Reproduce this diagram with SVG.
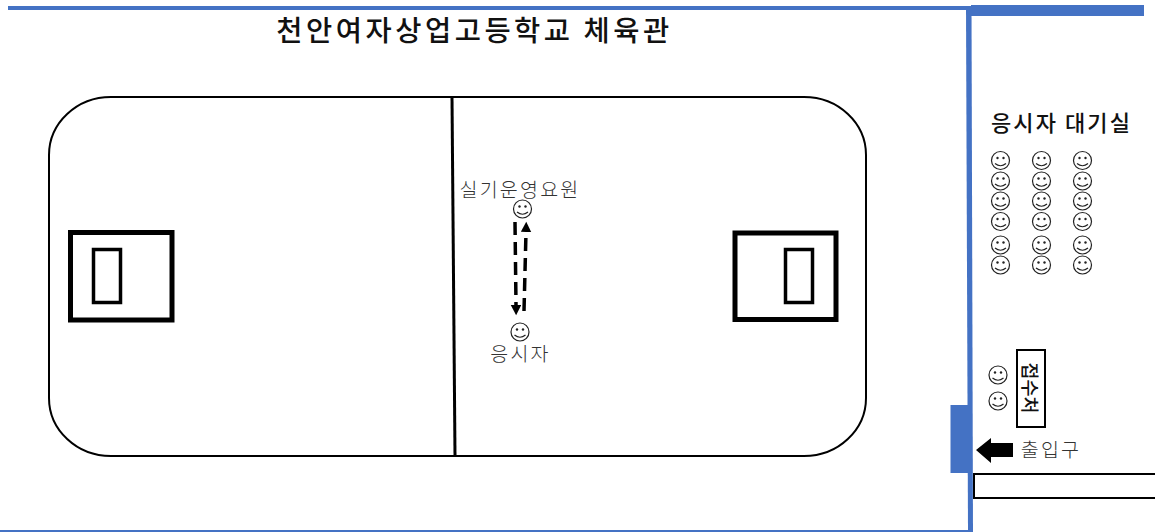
<svg xmlns="http://www.w3.org/2000/svg" width="1155" height="532" viewBox="0 0 1155 532">
<style>
text{font-family:"Noto Sans CJK KR","Liberation Sans",sans-serif;fill:#111;text-anchor:middle}
.wall{fill:#4472c4}
.box{fill:#fff;stroke:#000}
.dash{fill:none;stroke:#000;stroke-width:3.5;stroke-dasharray:13 7}
.face{fill:#fff;stroke:#222;stroke-width:1.2}
.lbl{font-size:19.500px;font-weight:300;letter-spacing:2.200px;fill:#333}
</style>
<defs>
<symbol id="smile" overflow="visible">
<circle class="face" cx="0" cy="0" r="9"/>
<circle cx="-3" cy="-2.5" r="1.2" fill="#222"/>
<circle cx="3" cy="-2.5" r="1.2" fill="#222"/>
<path d="M-5.500 3Q0 7.500 5.500 3" fill="none" stroke="#222" stroke-width="1.200"/>
</symbol>
<marker id="ah" markerWidth="3.200" markerHeight="3.200" refX="0" refY="1.500" orient="auto"><path d="M0 0L2.900 1.500L0 3Z" fill="#000"/></marker>
</defs>
<rect width="1155" height="532" fill="#fff"/>
<g id="walls">
<rect class="wall" x="8" y="6" width="962" height="4"/>
<path class="wall" d="M966 6H971.500L973 532H968Z"/>
<rect class="wall" x="0" y="530" width="970" height="2"/>
<rect class="wall" x="971" y="5" width="173" height="11"/>
</g>
<g id="title"><text x="474.500" y="41" font-size="28.500" font-weight="500" letter-spacing="3.500">천안여자상업고등학교 체육관</text></g>
<g id="court"><rect class="box" x="49" y="97" width="817" height="359" rx="62" ry="58" stroke-width="2"/></g>
<g id="center-line"><line x1="452" y1="97" x2="455" y2="456" stroke="#000" stroke-width="3"/></g>
<g id="left-goal">
<rect class="box" x="70.500" y="232.500" width="101.500" height="87.500" stroke-width="5"/>
<rect class="box" x="93.500" y="249.500" width="27" height="53" stroke-width="3.500"/>
</g>
<g id="right-goal">
<rect class="box" x="735" y="233" width="101" height="86.500" stroke-width="5"/>
<rect class="box" x="785.500" y="249.500" width="27" height="53" stroke-width="3.500"/>
</g>
<g id="connectors">
<path class="dash" d="M515 222L516 305" marker-end="url(#ah)"/>
<path class="dash" d="M524 311L526 232" marker-end="url(#ah)"/>
</g>
<g id="staff">
<text class="lbl" x="520" y="197">실기운영요원</text>
<use href="#smile" x="522.500" y="209"/>
</g>
<g id="candidate">
<use href="#smile" x="520" y="332"/>
<text class="lbl" x="520.500" y="361">응시자</text>
</g>
<g id="waiting-room">
<text x="1061.500" y="131" font-size="22" font-weight="500" letter-spacing="2.100">응시자 대기실</text>
<use href="#smile" x="1000.500" y="160.500"/><use href="#smile" x="1041.500" y="160.500"/><use href="#smile" x="1082.500" y="160.500"/>
<use href="#smile" x="1000.500" y="181"/><use href="#smile" x="1041.500" y="181"/><use href="#smile" x="1082.500" y="181"/>
<use href="#smile" x="1000.500" y="201"/><use href="#smile" x="1041.500" y="201"/><use href="#smile" x="1082.500" y="201"/>
<use href="#smile" x="1000.500" y="221.500"/><use href="#smile" x="1041.500" y="221.500"/><use href="#smile" x="1082.500" y="221.500"/>
<use href="#smile" x="1000.500" y="245"/><use href="#smile" x="1041.500" y="245"/><use href="#smile" x="1082.500" y="245"/>
<use href="#smile" x="1000.500" y="265"/><use href="#smile" x="1041.500" y="265"/><use href="#smile" x="1082.500" y="265"/>
</g>
<g id="reception">
<use href="#smile" x="998" y="375"/>
<use href="#smile" x="998" y="401"/>
<rect class="box" x="1017" y="350" width="28" height="77" stroke-width="2"/>
<text transform="translate(1029 388) rotate(90)" y="6.500" font-size="18.500" font-weight="500" letter-spacing="0">접수처</text>
</g>
<g id="door"><rect class="wall" x="950.500" y="405" width="21" height="68"/></g>
<g id="entrance">
<path d="M976 450L991 438V443H1013V457H991V463Z" fill="#000"/>
<text class="lbl" x="1051" y="457">출입구</text>
</g>
<g id="bottom-box"><rect class="box" x="974" y="474" width="182" height="24" stroke-width="2"/></g>
</svg>
